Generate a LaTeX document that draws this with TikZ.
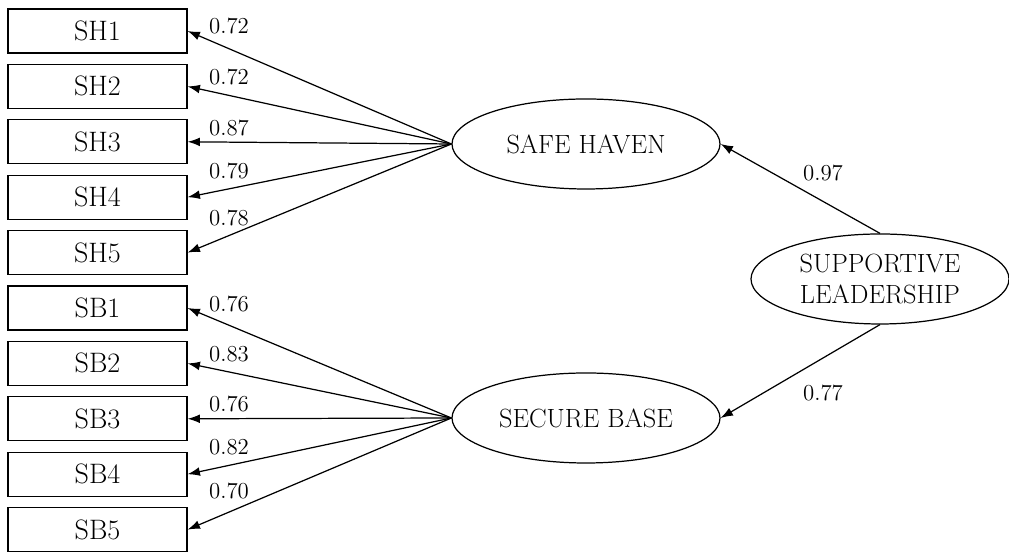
\documentclass[tikz,border=0pt]{standalone}
\usepackage{fontspec}
\usetikzlibrary{arrows.meta}
\usetikzlibrary{shapes.geometric}

\begin{document}
\begin{tikzpicture}[
    item/.style={draw, line width=0.7pt, minimum width=3.58cm, minimum height=0.88cm, inner sep=0pt, font=\fontsize{16}{18}\selectfont},
    latent/.style={draw, ellipse, line width=0.7pt, minimum width=5.36cm, minimum height=1.8cm, inner sep=0pt, align=center, font=\fontsize{15}{18}\selectfont},
    load/.style={line width=0.7pt, -{Latex[length=7pt,width=5pt]}},
    coef/.style={font=\fontsize{13}{15}\selectfont}
]
\useasboundingbox (0,0) rectangle (20.18,11.04);

% latent variables
\node[latent] (sh) at (11.72,8.16) {SAFE HAVEN};
\node[latent] (sb) at (11.72,2.68) {SECURE BASE};
\node[latent, minimum width=5.16cm] (sl) at (17.6,5.46) {SUPPORTIVE\\LEADERSHIP};

% safe haven items
\foreach \i/\v/\ly in {1/0.72/10.52, 2/0.72/9.50, 3/0.87/8.48, 4/0.79/7.62, 5/0.78/6.68} {
    \node[item] (SH\i) at (1.95,{10.42-1.108*(\i-1)}) {SH\i};
    \draw[load] (sh.west) -- (SH\i.east);
    \node[coef] (cSH\i) at (4.58,\ly) {\v};
}

% secure base items
\foreach \i/\v/\ly in {1/0.76/4.96, 2/0.83/3.96, 3/0.76/2.96, 4/0.82/2.10, 5/0.70/1.22} {
    \node[item] (SB\i) at (1.95,{10.42-1.108*(\i+4)}) {SB\i};
    \draw[load] (sb.west) -- (SB\i.east);
    \node[coef] (cSB\i) at (4.58,\ly) {\v};
}

\draw[load] (sl.north) -- (sh.east);
\draw[load] (sl.south) -- (sb.east);
\node[coef] (csh) at (16.46,7.58) {0.97};
\node[coef] (csb) at (16.46,3.18) {0.77};
\end{tikzpicture}
\end{document}
